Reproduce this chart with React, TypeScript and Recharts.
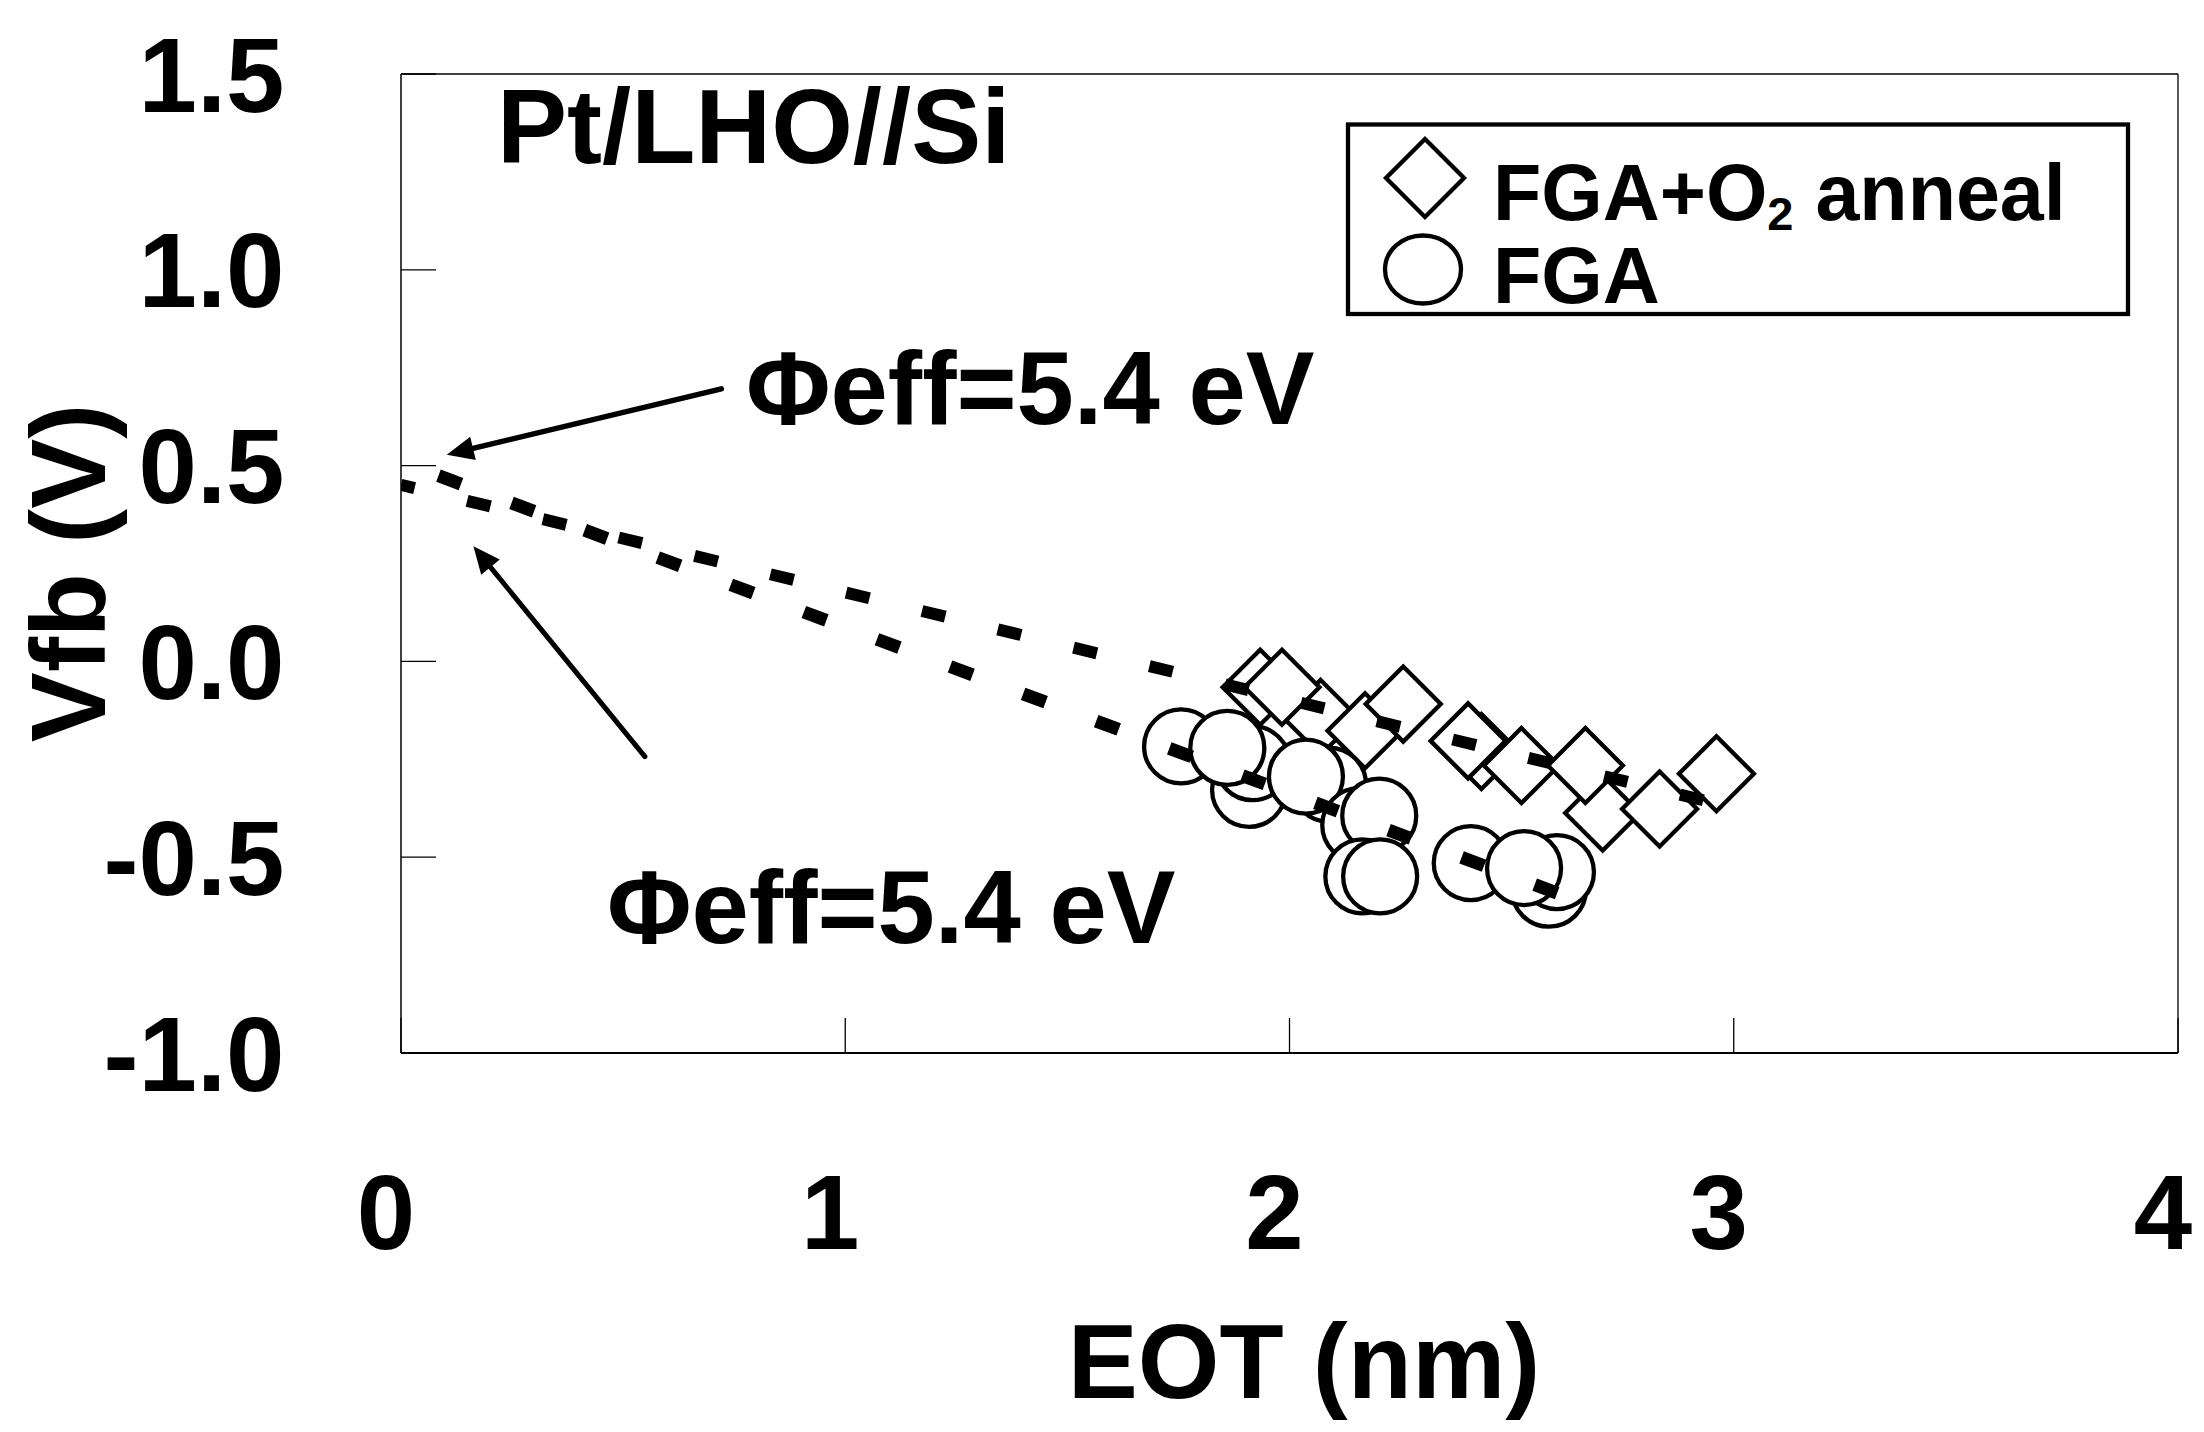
import React from 'react';
import { ScatterChart, Scatter, XAxis, YAxis, ReferenceLine } from 'recharts';

// axis ticks
const xTicks = [0, 1, 2, 3, 4];
const yTicks = [-1.0, -0.5, 0.0, 0.5, 1.0, 1.5];

// FGA+O2 anneal (diamonds), listed back-to-front
const fgaO2 = [
  { x: 2.070, y: -0.143 },
  { x: 1.934, y: -0.066 },
  { x: 1.983, y: -0.066 },
  { x: 2.170, y: -0.177 },
  { x: 2.256, y: -0.109 },
  { x: 2.432, y: -0.230 },
  { x: 2.402, y: -0.203 },
  { x: 2.522, y: -0.266 },
  { x: 2.705, y: -0.387 },
  { x: 2.666, y: -0.266 },
  { x: 2.833, y: -0.377 },
  { x: 2.961, y: -0.287 },
];

// FGA (circles), listed back-to-front
const fga = [
  { x: 1.909, y: -0.328 },
  { x: 1.917, y: -0.260 },
  { x: 1.756, y: -0.217 },
  { x: 1.860, y: -0.221 },
  { x: 2.089, y: -0.315 },
  { x: 2.037, y: -0.294 },
  { x: 2.157, y: -0.418 },
  { x: 2.202, y: -0.394 },
  { x: 2.164, y: -0.549 },
  { x: 2.204, y: -0.549 },
  { x: 2.584, y: -0.583 },
  { x: 2.602, y: -0.538 },
  { x: 2.408, y: -0.515 },
  { x: 2.528, y: -0.528 },
];

// extrapolated fits
const fitO2 = [
  { x: 0, y: 0.451 },
  { x: 2.944, y: -0.358 },
];
const fitFga = [
  { x: 0, y: 0.510 },
  { x: 2.613, y: -0.596 },
];

// annotation arrows: tail -> head
const arrowUpper = [
  { x: 0.721, y: 0.696 },
  { x: 0.103, y: 0.528 },
];
const arrowLower = [
  { x: 0.549, y: -0.243 },
  { x: 0.163, y: 0.294 },
];

const FONT = "'Liberation Sans', Arial, Helvetica, sans-serif";

const XTick = (props: any) => {
  const { x, y, payload } = props;
  return (
    <g>
      <line x1={x} y1={y} x2={x} y2={y - 35} stroke="#000" strokeWidth={1.3} />
      <text x={x - 15} y={y + 195.5} textAnchor="middle" fontFamily={FONT} fontWeight="bold" fontSize={105} fill="#000">
        {payload.value}
      </text>
    </g>
  );
};

const YTick = (props: any) => {
  const { x, y, payload } = props;
  return (
    <g>
      <line x1={x} y1={y} x2={x + 35} y2={y} stroke="#000" strokeWidth={1.3} />
      <text x={x - 116.5} y={y + 37.5} textAnchor="end" fontFamily={FONT} fontWeight="bold" fontSize={105} fill="#000">
        {Number(payload.value).toFixed(1)}
      </text>
    </g>
  );
};

const Diamond = (props: any) => {
  const { cx, cy } = props;
  const h = 37.5;
  return (
    <path
      d={`M${cx},${cy - h}L${cx + h},${cy}L${cx},${cy + h}L${cx - h},${cy}Z`}
      fill="#fff"
      stroke="#000"
      strokeWidth={4.3}
    />
  );
};

const Circle = (props: any) => {
  const { cx, cy } = props;
  return <circle cx={cx} cy={cy} r={37} fill="#fff" stroke="#000" strokeWidth={4.3} />;
};

const arrowShape = (w: number) => (p: any) => {
  const { x1, y1, x2, y2 } = p;
  const ang = Math.atan2(y2 - y1, x2 - x1);
  const len = 27;
  const half = 12;
  const bx = x2 - len * Math.cos(ang);
  const by = y2 - len * Math.sin(ang);
  const nx = -Math.sin(ang) * half;
  const ny = Math.cos(ang) * half;
  return (
    <g>
      <line x1={x1} y1={y1} x2={bx} y2={by} stroke="#000" strokeWidth={w} strokeLinecap="round" />
      <polygon points={`${x2},${y2} ${bx + nx},${by + ny} ${bx - nx},${by - ny}`} fill="#000" />
    </g>
  );
};

const txt = { fontFamily: FONT, fontWeight: 'bold' as const, fill: '#000' };

export default function App() {
  return (
    <div style={{ background: '#fff', width: 2188, height: 1416 }}>
      <ScatterChart width={2188} height={1416} margin={{ top: 66, right: 18, bottom: 0, left: 0 }}>
        <XAxis
          type="number"
          dataKey="x"
          domain={[0, 4]}
          ticks={xTicks}
          interval={0}
          tickSize={0}
          tickMargin={0}
          tickLine={false}
          axisLine={{ stroke: '#000', strokeWidth: 2 }}
          height={371}
          tick={<XTick />}
          allowDataOverflow
        />
        <YAxis
          type="number"
          dataKey="y"
          domain={[-1, 1.5]}
          ticks={yTicks}
          interval={0}
          tickSize={0}
          tickMargin={0}
          tickLine={false}
          axisLine={{ stroke: '#000', strokeWidth: 1.5 }}
          width={393}
          tick={<YTick />}
          allowDataOverflow
        />
        <ReferenceLine y={1.5} stroke="#000" strokeWidth={1.3} />
        <ReferenceLine x={4} stroke="#000" strokeWidth={1.3} />

        <Scatter name="FGA+O2 anneal" data={fgaO2} shape={<Diamond />} isAnimationActive={false} />
        <Scatter name="FGA" data={fga} shape={<Circle />} isAnimationActive={false} />

        <Scatter
          data={fitO2}
          line={{ stroke: '#000', strokeWidth: 12, strokeDasharray: '24 54', strokeDashoffset: 10 }}
          shape={() => <g />}
          isAnimationActive={false}
        />
        <Scatter
          data={fitFga}
          line={{ stroke: '#000', strokeWidth: 13, strokeDasharray: '24 54', strokeDashoffset: 38 }}
          shape={() => <g />}
          isAnimationActive={false}
        />

        <ReferenceLine segment={arrowUpper} shape={arrowShape(5.5)} />
        <ReferenceLine segment={arrowLower} shape={arrowShape(5)} />

        <text x={489} y={154.7} fontSize={105} {...txt}>Pt/LHO//Si</text>
        <text x={738} y={416.3} fontSize={103} {...txt}>Φeff=5.4 eV</text>
        <text x={599} y={934.7} fontSize={103} {...txt}>Φeff=5.4 eV</text>

        <g>
          <rect x={1340} y={116.5} width={780} height={189.5} fill="#fff" stroke="#000" strokeWidth={4.3} />
          <path d="M1417,131L1456,170L1417,209L1378,170Z" fill="#fff" stroke="#000" strokeWidth={4.3} />
          <ellipse cx={1415} cy={261.5} rx={38} ry={34} fill="#fff" stroke="#000" strokeWidth={4.3} />
          <text x={1485} y={212} fontSize={79} {...txt}>
            FGA+O<tspan fontSize={47} dy={10}>2</tspan>
            <tspan dy={-10}> anneal</tspan>
          </text>
          <text x={1485} y={295} fontSize={79} {...txt}>FGA</text>
        </g>

        <text x={1296} y={1390} fontSize={105} textAnchor="middle" {...txt}>EOT (nm)</text>
        <text x={97} y={565} fontSize={105} textAnchor="middle" transform="rotate(-90, 97, 565)" {...txt}>
          Vfb (V)
        </text>
      </ScatterChart>
    </div>
  );
}
